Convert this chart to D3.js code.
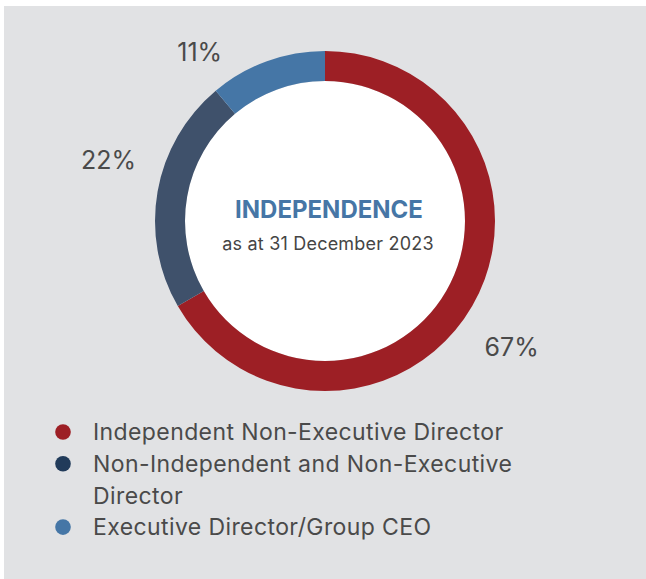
<html>
    <head>
        <script src='https://d3js.org/d3.v7.min.js'></script>
        <style>
            body { margin: 0; background: #ffffff; }
            svg text { font-family: Inter, "Noto Sans", sans-serif; fill: #4a4a4a; }
            .pct-label { font-size: 25px; text-anchor: middle; dominant-baseline: central; }
            .centre-title { font-size: 24px; font-weight: 700; fill: #4676a6; text-anchor: middle; }
            .centre-sub { font-size: 18px; letter-spacing: 0.2px; text-anchor: middle; fill: #454545; }
            .legend-text { font-size: 23px; letter-spacing: 0.4px; }
        </style>
    </head>

    <body>
        <svg class="vis" width="646" height="579"></svg>

        <script>
            // board composition, 9 directors
            const categories = ["Independent Non-Executive Director",
                                "Non-Independent and Non-Executive Director",
                                "Executive Director/Group CEO"];
            const counts = [6, 2, 1];
            const pctLabels = ["67%", "22%", "11%"];
            const ringColours = ["#9d1f25", "#3f516b", "#4576a6"];
            const dotColours = ["#9d1f25", "#213b5a", "#4576a6"];

            const width = 646, height = 579;
            const cx = 325, cy = 221;
            const outerR = 170, innerR = 140;

            const svg = d3.select(".vis");

            svg.append("rect")
                .attr("x", 4).attr("y", 6)
                .attr("width", width - 4).attr("height", height - 6)
                .attr("fill", "#e1e2e4");

            const data = categories.map(function(c, i){
                return {name: c, value: counts[i], label: pctLabels[i], colour: ringColours[i], dot: dotColours[i]};
            });

            const pie = d3.pie().sort(null).value(function(d){return d.value;});
            const arcs = pie(data);

            const arc = d3.arc().innerRadius(innerR).outerRadius(outerR);
            const labelArc = d3.arc().innerRadius(226).outerRadius(226);

            const g = svg.append("g").attr("transform", `translate(${cx},${cy})`);

            g.append("circle").attr("r", innerR).attr("fill", "#ffffff");

            g.selectAll("path.slice")
                .data(arcs)
                .enter()
                .append("path")
                .attr("class", "slice")
                .attr("d", arc)
                .attr("fill", function(d){return d.data.colour;});

            // labels sit a bit off the mid angle in the original layout
            const nudge = [[-9, 13], [6, -22], [-48, 43]];

            g.selectAll("text.pct-label")
                .data(arcs)
                .enter()
                .append("text")
                .attr("class", "pct-label")
                .attr("x", function(d, i){return labelArc.centroid(d)[0] + nudge[i][0];})
                .attr("y", function(d, i){return labelArc.centroid(d)[1] + nudge[i][1];})
                .text(function(d){return d.data.label;});

            g.append("text")
                .attr("class", "centre-title")
                .attr("x", 4).attr("y", -3)
                .text("INDEPENDENCE");

            g.append("text")
                .attr("class", "centre-sub")
                .attr("x", 3).attr("y", 29)
                .text("as at 31 December 2023");

            // legend
            const lineH = 31.7;
            const legend = svg.append("g").attr("transform", "translate(63,432)");
            let row = 0;
            data.forEach(function(d){
                const item = legend.append("g").attr("transform", `translate(0,${row * lineH})`);
                item.append("circle").attr("r", 7.8).attr("fill", d.dot);
                const txt = item.append("text")
                    .attr("class", "legend-text")
                    .attr("x", 30);
                // simple word wrap
                const words = d.name.split(" ");
                let line = [];
                let tspan = txt.append("tspan").attr("x", 30).attr("dy", "0.36em");
                let lines = 1;
                words.forEach(function(w){
                    line.push(w);
                    tspan.text(line.join(" "));
                    if (tspan.node().getComputedTextLength() > 450 && line.length > 1) {
                        line.pop();
                        tspan.text(line.join(" "));
                        line = [w];
                        tspan = txt.append("tspan").attr("x", 30).attr("dy", lineH).text(w);
                        lines++;
                    }
                });
                row += lines;
            });
        </script>
    </body>
</html>
